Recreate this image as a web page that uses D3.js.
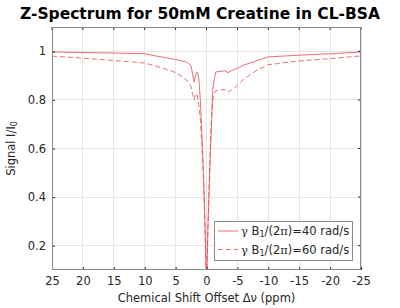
<!DOCTYPE html>
<html><head><meta charset="utf-8">
<script src="https://cdn.jsdelivr.net/npm/d3@7"></script>
<style>body{margin:0;background:#fff}svg{display:block}text{font-family:"DejaVu Sans",sans-serif;fill:#262626}</style>
</head><body>
<script>
const offsets = [25,20,15,10,8,6,5,4,3.5,3,2.5,2.25,2,1.75,1.5,1.25,1,0.75,0.5,0.25,0,-0.25,-0.5,-0.75,-1,-1.25,-1.5,-2,-2.5,-3,-3.5,-4,-4.5,-5,-6,-8,-10,-15,-20,-25];
const signal40 = [0.997,0.995,0.993,0.990,0.980,0.971,0.966,0.961,0.958,0.952,0.940,0.905,0.873,0.905,0.915,0.890,0.800,0.660,0.500,0.300,0.020,0.300,0.500,0.660,0.840,0.885,0.915,0.917,0.918,0.920,0.912,0.920,0.925,0.930,0.943,0.960,0.977,0.984,0.990,0.997];
const signal60 = [0.980,0.972,0.962,0.952,0.938,0.922,0.912,0.897,0.887,0.876,0.855,0.825,0.800,0.826,0.820,0.780,0.720,0.620,0.480,0.280,0.020,0.280,0.480,0.700,0.800,0.825,0.838,0.840,0.842,0.842,0.832,0.840,0.847,0.860,0.885,0.920,0.945,0.960,0.970,0.981];
const xTicks = [25,20,15,10,5,0,-5,-10,-15,-20,-25];
const yTicks = [0.2,0.4,0.6,0.8,1];
const seriesNames = ["40","60"];

const W=400,H=308;
const svg=d3.select("body").append("svg").attr("width",W).attr("height",H);
const L=52,R=361,T=27,B=270;
const x=d3.scaleLinear().domain([25,-25]).range([L,R]);
const y=d3.scaleLinear().domain([0.1,1.1]).range([B,T]);

// grid
svg.append("g").selectAll("line").data(xTicks).join("line")
  .attr("x1",d=>x(d)).attr("x2",d=>x(d)).attr("y1",T).attr("y2",B)
  .attr("stroke","#e6e6e6").attr("stroke-width",1).attr("shape-rendering","crispEdges");
svg.append("g").selectAll("line").data(yTicks).join("line")
  .attr("y1",d=>y(d)).attr("y2",d=>y(d)).attr("x1",L).attr("x2",R)
  .attr("stroke","#e6e6e6").attr("stroke-width",1).attr("shape-rendering","crispEdges");

// clip
svg.append("clipPath").attr("id","clip").append("rect").attr("x",L).attr("y",T).attr("width",R-L).attr("height",B-T);

const col="#ec4652";
const line=(vals)=>d3.line().x((d,i)=>x(offsets[i])).y(d=>y(d))(vals);
svg.append("path").attr("d",line(signal40)).attr("fill","none").attr("stroke",col).attr("stroke-width",0.8).attr("clip-path","url(#clip)");
svg.append("path").attr("d",line(signal60)).attr("fill","none").attr("stroke",col).attr("stroke-width",0.8).attr("stroke-dasharray","5,3").attr("clip-path","url(#clip)");

// axes
const xa=svg.append("g").attr("transform",`translate(0,${B})`).call(d3.axisBottom(x).tickValues(xTicks).tickFormat(d=>String(d)).tickSize(-3).tickPadding(7));
const ya=svg.append("g").attr("transform",`translate(${L},0)`).call(d3.axisLeft(y).tickValues(yTicks).tickFormat(d=>String(d)).tickSize(-3).tickPadding(6));
[xa,ya].forEach(a=>{a.select(".domain").remove();a.selectAll("line").attr("stroke","#262626");a.selectAll("text").style("font-size","11.5px").attr("fill","#262626");});
// top/right ticks
svg.append("g").selectAll("line").data(xTicks).join("line").attr("x1",d=>x(d)).attr("x2",d=>x(d)).attr("y1",T).attr("y2",T+3).attr("stroke","#262626");
svg.append("g").selectAll("line").data(yTicks).join("line").attr("y1",d=>y(d)).attr("y2",d=>y(d)).attr("x1",R).attr("x2",R-3).attr("stroke","#262626");
svg.append("rect").attr("x",L+0.5).attr("y",T+0.5).attr("width",R-L-1).attr("height",B-T-1).attr("fill","none").attr("stroke","#8a8a8a").attr("stroke-width",1);

// title
svg.append("text").attr("x",200).attr("y",19).attr("text-anchor","middle").style("font-size","15.5px").style("font-weight","bold").style("fill","#000").text("Z-Spectrum for 50mM Creatine in CL-BSA");

// x label
svg.append("text").attr("x",x(0)).attr("y",302).attr("text-anchor","middle").style("font-size","11.5px").text("Chemical Shift Offset Δν (ppm)");
// y label
const yl=svg.append("text").attr("transform",`translate(15,${(T+B)/2}) rotate(-90)`).attr("text-anchor","middle").style("font-size","11.5px");
yl.append("tspan").text("Signal I/I");
yl.append("tspan").attr("baseline-shift","-30%").style("font-size","8px").text("0");

// legend
const lg=svg.append("g");
lg.append("rect").attr("x",214.5).attr("y",221.5).attr("width",138).attr("height",39).attr("fill","#fff").attr("stroke","#8a8a8a");
seriesNames.forEach((s,i)=>{
  const cy=231+i*18.5;
  lg.append("line").attr("x1",218).attr("x2",238).attr("y1",cy).attr("y2",cy).attr("stroke",col).attr("stroke-width",0.8).attr("stroke-dasharray",i?"5,3":null);
  const t=lg.append("text").attr("x",241).attr("y",cy+4).style("font-size","11.5px");
  t.append("tspan").style("font-family","'DejaVu Serif',serif").text("γ");
  t.append("tspan").text(" B");
  t.append("tspan").attr("baseline-shift","-30%").style("font-size","8px").text("1");
  t.append("tspan").text("/(2");
  t.append("tspan").style("font-family","'DejaVu Serif',serif").text("π");
  t.append("tspan").text(")="+s+" rad/s");
});
</script>
</body></html>
